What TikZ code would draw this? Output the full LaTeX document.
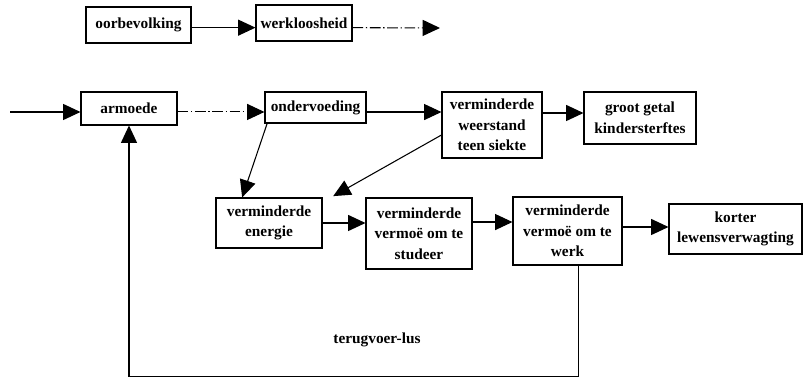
\documentclass[tikz,border=0pt]{standalone}
\usepackage{fontspec}
\setmainfont{Liberation Serif}
\usetikzlibrary{arrows.meta}

\tikzset{
  box/.style={draw, line width=0.8pt, align=center, inner sep=1pt,
    font=\fontsize{11.5}{15.5}\selectfont\bfseries},
  sz/.style 2 args={minimum width=#1*0.75pt, minimum height=#2*0.75pt},
  pijl/.style={line width=0.8pt, -{Triangle[length=13pt, width=12pt]}},
  stippel/.style={pijl, dash pattern=on 8pt off 2pt on 1pt off 2pt}
}

\begin{document}
\begin{tikzpicture}[x=0.75pt, y=-0.75pt]
\useasboundingbox (0,0) rectangle (806,377);

\node[box, sz={105}{36}] (oorbevolking) at (138.5,25) {oorbevolking};
\node[box, sz={96}{36}] (werkloosheid) at (304,23) {werkloosheid};
\coordinate (uit) at (440,28);

\coordinate (in) at (10,112);
\node[box, sz={96}{33}] (armoede) at (129,108.5) {armoede};
\node[box, sz={101}{31}] (ondervoeding) at (315.5,107.5) {ondervoeding};
\node[box, sz={100}{66}] (weerstand) at (492,125) {verminderde\\weerstand\\teen siekte};
\node[box, sz={112}{52}] (sterftes) at (640,118) {groot getal\\kindersterftes};

\node[box, sz={106}{50}] (energie) at (269,223) {verminderde\\energie};
\node[box, sz={106}{71}] (studeer) at (419,233.5) {verminderde\\vermoë om te\\studeer};
\node[box, sz={109}{68}] (werk) at (567.5,231) {verminderde\\vermoë om te\\werk};
\node[box, sz={133}{50}] (lewe) at (735.5,229) {korter\\lewensverwagting};

\node[font=\fontsize{11.5}{14}\selectfont\bfseries] (lus) at (377,340) {terugvoer-lus};

\draw[pijl] ([yshift=-2pt]oorbevolking.east) -- ([yshift=-2pt]oorbevolking.east -| werkloosheid.west);
\draw[stippel] ([yshift=-3.5pt]werkloosheid.east) -- (uit);

\draw[pijl] (in) -- (in -| armoede.west);
\draw[stippel] ([yshift=-2.6pt]armoede.east) -- ([yshift=-2.6pt]armoede.east -| ondervoeding.west);
\draw[pijl] ([yshift=-3.4pt]ondervoeding.east) -- ([yshift=-3.4pt]ondervoeding.east -| weerstand.west);
\draw[pijl] ([yshift=9pt]weerstand.east) -- ([yshift=9pt]weerstand.east -| sterftes.west);

\draw[pijl] ([xshift=2pt]ondervoeding.south west) -- ([xshift=20pt]energie.north west);
\draw[pijl] ([yshift=-7.5pt]weerstand.west) -- ([xshift=8pt, yshift=1pt]energie.north east);

\draw[pijl] (energie.east) -- (energie.east -| studeer.west);
\draw[pijl] ([yshift=8.6pt]studeer.east) -- ([yshift=8.6pt]studeer.east -| werk.west);
\draw[pijl] ([yshift=3pt]werk.east) -- ([yshift=3pt]werk.east -| lewe.west);

% terugvoer
\draw[pijl] ([xshift=8pt]werk.south) -- ++(0,111) -| (armoede.south);

\end{tikzpicture}
\end{document}
